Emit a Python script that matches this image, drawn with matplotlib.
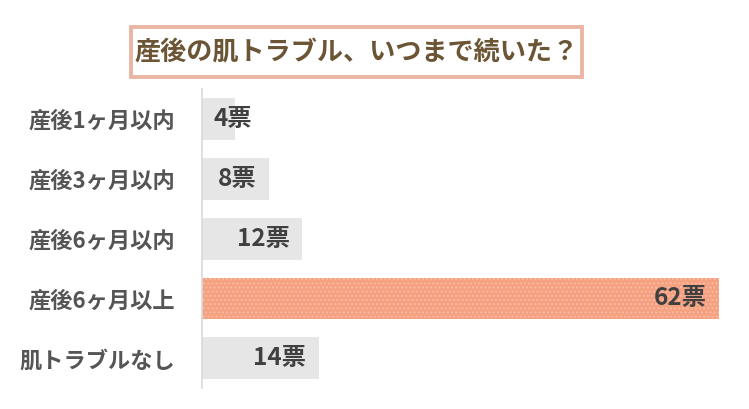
import matplotlib.pyplot as plt
from matplotlib.patches import Rectangle

plt.rcParams['font.family'] = ['Noto Sans CJK JP', 'DejaVu Sans']

# データ
categories = ["産後1ヶ月以内", "産後3ヶ月以内", "産後6ヶ月以内", "産後6ヶ月以上", "肌トラブルなし"]
votes = [4, 8, 12, 62, 14]
highlight = "産後6ヶ月以上"
title = "産後の肌トラブル、いつまで続いた？"

fig = plt.figure(figsize=(7.49, 4.09), dpi=100)
ax = fig.add_axes([0.2697, 0.051, 0.96 - 0.2697, 0.731])

ypos = list(range(len(categories)))
for y, cat, v in zip(ypos, categories, votes):
    if cat == highlight:
        ax.barh(y, v, height=0.70, color="#F5A07F", edgecolor="#F8BCA4",
                hatch="....", linewidth=0)
    else:
        ax.barh(y, v, height=0.70, color="#E6E6E6", linewidth=0)

    # ラベル（バーの内側右寄せ、短いバーは左寄せ）
    if v < 6:
        ax.annotate(f"{v}票", (0, y), xytext=(8, 0), textcoords="offset points",
                    ha="left", va="center", fontsize=17.5, fontweight="bold", color="#404040")
    else:
        ax.annotate(f"{v}票", (v, y), xytext=(-9, 0), textcoords="offset points",
                    ha="right", va="center", fontsize=17.5, fontweight="bold", color="#404040")

ax.set_xlim(0, 62)
ax.set_ylim(4.5, -0.5)
ax.set_yticks(ypos)
ax.set_yticklabels(categories, fontsize=16, fontweight="bold", color="#555555")
ax.tick_params(axis="y", length=0, pad=19)
ax.set_xticks([])
for side in ["top", "right", "bottom"]:
    ax.spines[side].set_visible(False)
ax.spines["left"].set_color("#D9D9D9")
ax.spines["left"].set_linewidth(1.2)

# タイトル（枠付き）
fig.patches.append(Rectangle((131 / 749, 1 - 77 / 409), 451 / 749, 50 / 409,
                             transform=fig.transFigure, facecolor="white",
                             edgecolor="#EBB5A5", linewidth=2.8))
fig.text(0.476, 0.873, title, ha="center", va="center", fontsize=18.8,
         fontweight="bold", color="#6B5535")

fig.savefig("out.png", dpi=100)
